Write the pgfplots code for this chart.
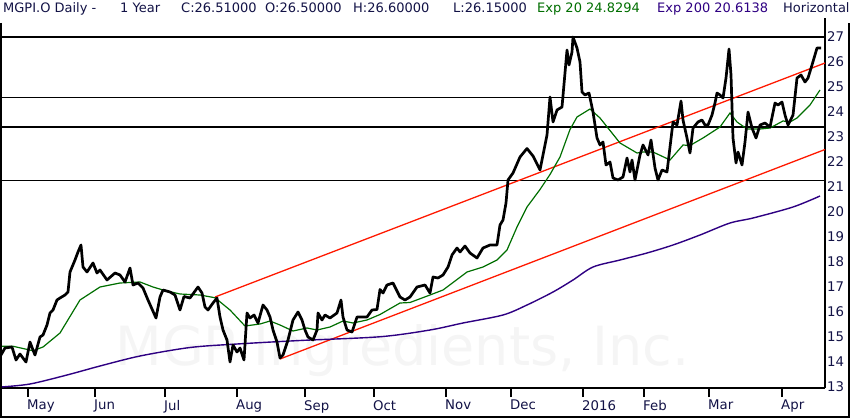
\documentclass[border=0pt]{standalone}
\usepackage{pgfplots}
\pgfplotsset{compat=1.18}
\usepackage{fontspec}
\setmainfont{DejaVu Sans}
\definecolor{navy}{RGB}{18,18,70}
\definecolor{emagreen}{RGB}{0,110,0}
\definecolor{emapurple}{RGB}{46,0,130}
\definecolor{trendred}{RGB}{255,25,0}
\begin{document}
\begin{tikzpicture}[x=1pt,y=1pt]
\path[use as bounding box] (0,0) rectangle (850,418);
% watermark
\node[anchor=base west, text=black!4, font=\fontsize{54}{60}\selectfont] at (112,53) {MGP Ingredients, Inc.};
\begin{axis}[
  at={(1pt,30pt)}, anchor=south west,
  scale only axis, width=824pt, height=370pt,
  xmin=1, xmax=825, ymin=12.96, ymax=27.76,
  axis x line*=bottom, axis y line*=right,
  axis line style={line width=2pt,-},
  xtick={28,95,165,237,305,374,446,511,583,644,709,782},
  xticklabels={May,Jun,Jul,Aug,Sep,Oct,Nov,Dec,2016,Feb,Mar,Apr},
  tick align=outside, major tick length=9pt,
  xtick style={line width=2pt,black},
  ytick={13,14,...,27},
  ytick style={draw=none},
  tick label style={font=\fontsize{13.3}{15}\selectfont, text=navy},
  xticklabel style={anchor=north west, inner sep=0pt, xshift=-1pt, yshift=-3pt},
  yticklabel style={anchor=west, inner sep=0pt, xshift=-7pt},
  /pgf/number format/assume math mode=true,
  clip=false,
]
% horizontal levels
\addplot[black, line width=1.2pt] coordinates {(1,27.0) (825,27.0)};
\addplot[black, line width=1.2pt] coordinates {(1,24.57) (825,24.57)};
\addplot[black, line width=1.2pt] coordinates {(1,23.4) (825,23.4)};
\addplot[black, line width=1.2pt] coordinates {(1,21.25) (825,21.25)};
% trend lines
\addplot[trendred, line width=1.3pt] coordinates {(215,16.6) (825,25.96)};
\addplot[trendred, line width=1.3pt] coordinates {(280,14.12) (825,22.5)};
% EMA 200
\addplot[emapurple, line width=1.4pt, smooth] coordinates {
(1,13.0) (30,13.12) (67,13.48) (100,13.84) (140,14.24) (190,14.58) (237,14.72)
(300,14.86) (380,15.01) (430,15.28) (463,15.56) (503,15.88) (527,16.28) (553,16.8)
(573,17.28) (593,17.8) (620,18.08) (647,18.36) (673,18.68) (700,19.08) (730,19.56)
(753,19.76) (793,20.2) (820,20.64)};
% EMA 20
\addplot[emagreen, line width=1.2pt] coordinates {
(1,14.63) (13,14.63) (33,14.45) (43,14.6) (60,15.16) (80,16.48) (100,17.0) (120,17.16)
(140,17.2) (153,17.0) (163,16.88) (180,16.72) (200,16.68) (215,16.57) (230,16.08)
(245,15.44) (260,15.52) (270,15.64) (280,15.48) (293,15.24) (307,15.36) (317,15.28)
(330,15.4) (343,15.64) (353,15.56) (367,15.68) (380,15.9) (400,16.36) (410,16.38)
(430,16.68) (443,16.88) (467,17.6) (483,17.8) (497,18.08) (507,18.48) (517,19.4)
(527,20.2) (540,20.9) (550,21.5) (560,22.2) (570,23.3) (577,23.8) (590,24.12)
(600,23.76) (620,22.76) (637,22.36) (643,22.4) (653,22.4) (670,22.08) (683,22.68)
(690,22.66) (703,22.96) (720,23.4) (730,23.96) (737,23.6) (747,23.32) (760,23.32)
(770,23.36) (783,23.64) (790,23.6) (797,23.76) (810,24.28) (820,24.88)};
% price
\addplot[black, line width=2.7pt, line join=round] coordinates {
(1,14.28) (5,14.56) (12,14.6) (16,14.08) (20,14.32) (26,14.0) (30,14.8) (33,14.48)
(35,14.28) (40,15.0) (43,15.08) (47,15.48) (50,15.96) (53,16.08) (57,16.48) (60,16.56)
(65,16.68) (68,16.8) (70,17.6) (75,18.08) (78,18.4) (81,18.68) (83,17.8) (87,17.6)
(93,17.96) (97,17.56) (100,17.68) (107,17.28) (115,17.56) (120,17.48) (125,17.2)
(130,17.76) (133,17.08) (138,17.16) (143,16.96) (148,16.48) (156,15.76) (160,16.6)
(163,16.88) (170,16.8) (175,16.68) (180,16.08) (184,16.62) (190,16.56) (198,17.0)
(202,16.76) (205,16.2) (208,16.08) (213,16.36) (217,16.56) (220,15.8) (223,15.28)
(227,14.88) (230,14.0) (233,14.68) (237,14.4) (240,14.56) (244,14.08) (247,15.96)
(250,15.76) (254,15.88) (258,15.56) (263,16.28) (267,16.08) (270,15.8) (273,15.28)
(277,14.8) (280,14.16) (283,14.28) (288,14.88) (293,15.68) (298,16.0) (302,15.68)
(305,15.28) (308,15.0) (313,14.88) (317,15.28) (318,15.96) (322,15.68) (325,15.88)
(330,15.76) (337,15.96) (341,16.48) (343,15.8) (347,15.28) (352,15.2) (357,15.8)
(362,15.8) (367,15.8) (372,16.08) (377,16.1) (380,16.9) (383,16.76) (387,17.08)
(393,17.16) (400,16.6) (405,16.48) (410,16.6) (417,17.0) (425,17.08) (430,16.76)
(433,17.4) (438,17.36) (443,17.48) (448,17.8) (452,18.28) (457,18.56) (460,18.4)
(465,18.64) (470,18.36) (477,18.16) (483,18.56) (490,18.68) (497,18.68) (500,19.48)
(503,19.68) (506,20.36) (508,21.28) (513,21.56) (520,22.2) (527,22.54) (533,22.24)
(540,21.68) (547,23.08) (550,24.6) (553,23.6) (557,24.08) (562,24.2) (567,26.48)
(569,25.88) (572,26.4) (573,27.0) (577,26.56) (580,26.0) (582,24.8) (585,24.68)
(589,24.76) (593,24.0) (597,22.96) (600,22.68) (603,22.8) (606,21.88) (610,22.0)
(613,21.36) (618,21.28) (623,21.4) (627,22.16) (630,21.6) (632,22.08) (635,21.28)
(640,22.28) (643,22.68) (648,22.28) (651,22.88) (655,21.76) (658,21.28) (662,21.68)
(667,21.6) (670,22.6) (673,23.6) (677,23.48) (681,24.44) (683,23.68) (687,22.96)
(690,22.36) (693,23.36) (698,23.6) (702,23.68) (705,23.48) (708,23.48) (712,23.88)
(715,24.36) (717,24.76) (720,24.68) (723,24.56) (726,25.36) (729,26.52) (731,25.48)
(733,22.96) (736,21.96) (738,22.4) (742,21.88) (745,22.8) (748,24.0) (752,23.36)
(756,22.96) (760,23.48) (765,23.56) (770,23.4) (775,24.36) (778,24.28) (782,24.4)
(785,23.88) (788,23.48) (793,23.88) (797,25.36) (801,25.48) (805,25.2) (808,25.36)
(812,25.88) (817,26.56) (821,26.56)};
\end{axis}
% outer frame
\draw[line width=2pt] (1,395)--(1,1)--(849,1)--(849,395);
% header
\begin{scope}[every node/.style={anchor=base west, inner sep=0pt, font=\fontsize{13}{15}\selectfont}]
\node[text=navy] at (3,405) {MGPI.O Daily -};
\node[text=navy] at (120,405) {1 Year};
\node[text=navy] at (181,405) {C:26.51000};
\node[text=navy] at (265,405) {O:26.50000};
\node[text=navy] at (353,405) {H:26.60000};
\node[text=navy] at (453,405) {L:26.15000};
\node[text=emagreen] at (537,405) {Exp 20 24.8294};
\node[text=emapurple] at (657,405) {Exp 200 20.6138};
\node[text=navy] at (783,405) {Horizontal};
\end{scope}
\end{tikzpicture}
\end{document}
